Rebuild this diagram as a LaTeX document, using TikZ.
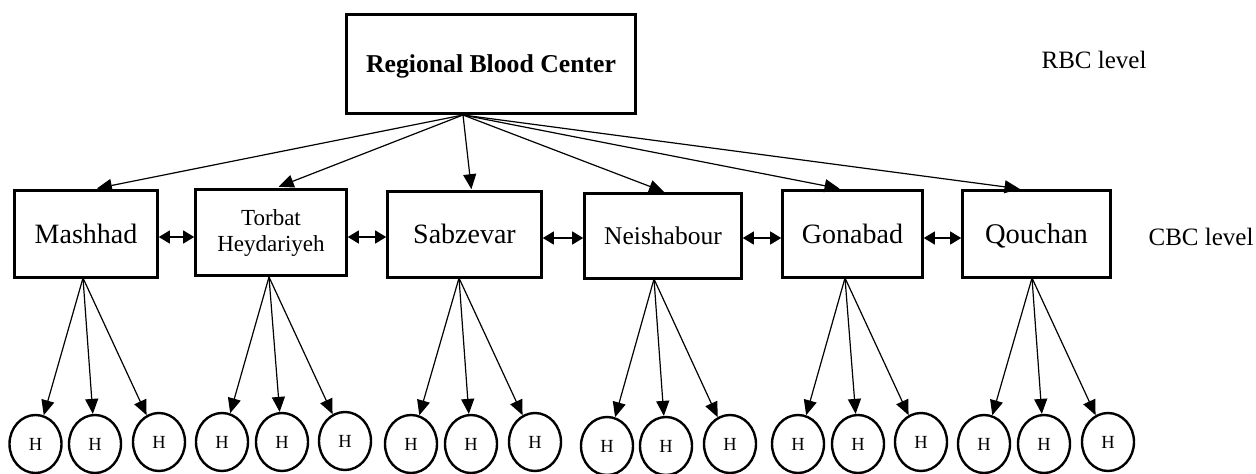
\documentclass[tikz,border=0pt]{standalone}
\usepackage{fontspec}
\setmainfont{Liberation Serif}
\usetikzlibrary{arrows.meta,shapes.geometric}

\tikzset{
  box/.style={draw, line width=2.6pt, inner sep=0pt, align=center},
  hosp/.style={draw, ellipse, line width=2.4pt, inner sep=0pt,
    minimum width=52pt, minimum height=58pt,
    font=\fontsize{18.5}{18.5}\selectfont, text height=12pt, text depth=0pt},
  down/.style={line width=1.2pt, -{Triangle[length=15pt,width=13pt]}},
  link/.style={line width=1.2pt,
    {Triangle[length=11pt,width=13pt]}-{Triangle[length=11pt,width=13pt]}},
  cityfont/.style={font=\fontsize{28}{30}\selectfont, text height=18.5pt, text depth=0pt},
  lvl/.style={font=\fontsize{25}{27}\selectfont}
}

\begin{document}
\begin{tikzpicture}[x=1pt,y=-1pt]
\useasboundingbox (0,0) rectangle (1256,474);

% Regional level
\node[box, minimum width=289pt, minimum height=99pt,
      font=\bfseries\fontsize{25.7}{28}\selectfont, text height=17pt, text depth=0pt]
      (rbc) at (491,64) {Regional Blood Center};
\node[lvl] (rbclvl) at (1094,60) {RBC level};
\coordinate (rbcout) at (463,115);

% City level
\node[box, cityfont, minimum width=143pt, minimum height=87pt] (mash) at (86,234) {Mashhad};
\node[box, font=\fontsize{23}{26}\selectfont, minimum width=151pt, minimum height=86pt] (torb) at (271,232.5) {Torbat\\Heydariyeh};
\node[box, cityfont, minimum width=154pt, minimum height=86pt] (sabz) at (464.5,234.5) {Sabzevar};
\node[box, cityfont, font=\fontsize{25.5}{28}\selectfont, text height=17pt, minimum width=157pt, minimum height=85pt] (neis) at (663,236) {Neishabour};
\node[box, cityfont, minimum width=140pt, minimum height=87pt] (gona) at (852.5,234) {Gonabad};
\node[box, cityfont, font=\fontsize{28.5}{30}\selectfont, minimum width=148pt, minimum height=87pt] (qouc) at (1036.5,234) {Qouchan};
\node[lvl] (cbclvl) at (1201,237) {CBC level};

% Regional centre to each city centre
\draw[down, shorten >=4pt] (rbcout) -- ([xshift=7pt]mash.north);
\draw[down, shorten >=4pt] (rbcout) -- ([xshift=4pt]torb.north);
\draw[down, shorten >=1pt] (rbcout) -- ([xshift=7pt]sabz.north);
\draw[down, shorten >=1pt] (rbcout) -- ([xshift=2pt]neis.north);
\draw[down, shorten >=3pt] (rbcout) -- ([xshift=-10pt]gona.north);
\draw[down, shorten >=3pt] (rbcout) -- ([xshift=-14pt]qouc.north);

% Links between neighbouring city centres
\draw[link] (mash.east |- 0,237) -- (torb.west |- 0,237);
\draw[link] (torb.east |- 0,237) -- (sabz.west |- 0,237);
\draw[link] (sabz.east |- 0,238) -- (neis.west |- 0,238);
\draw[link] (neis.east |- 0,238) -- (gona.west |- 0,238);
\draw[link] (gona.east |- 0,238) -- (qouc.west |- 0,238);

% Hospitals under each city centre
\coordinate (mashout) at (83,278);
\coordinate (torbout) at (269,277);
\coordinate (sabzout) at (459,278);
\coordinate (neisout) at (654,279);
\coordinate (gonaout) at (845,278);
\coordinate (qoucout) at (1032,278);

\foreach \c/\xa/\ya/\xb/\yb/\xc/\yc in {
    mash/35.5/444/95/444/159/442,
    torb/222/442/282/442/345/441,
    sabz/411/444/471/444/535/442,
    neis/607/446/666/446/730/444,
    gona/798/444/858/444/921/442,
    qouc/984/444/1044/444/1108/442}{
  \node[hosp] (\c h1) at (\xa,\ya) {H};
  \node[hosp] (\c h2) at (\xb,\yb) {H};
  \node[hosp] (\c h3) at (\xc,\yc) {H};
  \draw[down] (\c out) -- (\c h1);
  \draw[down] (\c out) -- (\c h2);
  \draw[down] (\c out) -- (\c h3);
}
\end{tikzpicture}
\end{document}
